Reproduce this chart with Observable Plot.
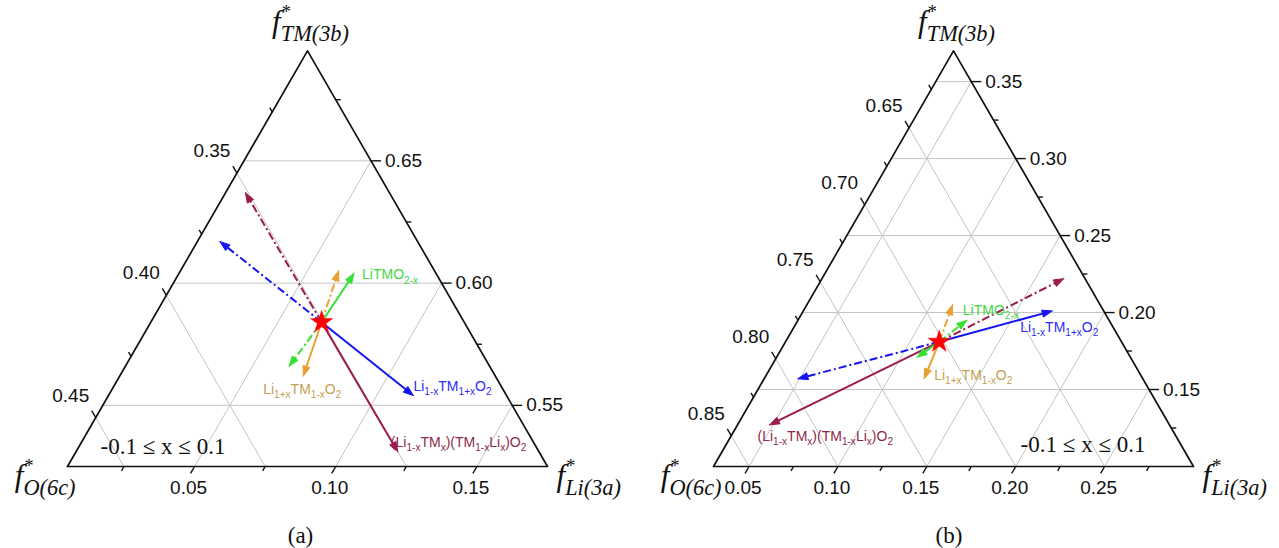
<!DOCTYPE html>
<html><head><meta charset="utf-8">
<script src="https://cdn.jsdelivr.net/npm/d3@7"></script>
<script src="https://cdn.jsdelivr.net/npm/@observablehq/plot@0.6"></script>
<style>
html,body{margin:0;padding:0;background:#fff;}
#wrap{display:flex;width:1279px;height:548px;overflow:hidden;}
#wrap svg{flex:none;}
</style></head><body><div id="wrap"></div>
<script>
// ---------------- data ----------------
const seriesNames = ["Li_{1-x}TM_{1+x}O_{2}", "(Li_{1-x}TM_{x})(TM_{1-x}Li_{x})O_{2}", "LiTMO_{2-x}", "Li_{1+x}TM_{1-x}O_{2}"];
const seriesColors = ["#1414f2", "#9c1a4c", "#33e033", "#eaa030"];
const labelColors = ["#2c2cf0", "#8c2a48", "#44d844", "#c4a052"];
const axisTitles = ["f^{*}_{TM(3b)}", "f^{*}_{O(6c)}", "f^{*}_{Li(3a)}"];
const rangeNote = "-0.1 ≤ x ≤ 0.1";

// panel (a)
const aLiRange = [0.005, 0.175];
const aTmRange = [0.525, 0.695];
const aOMin = 0.30;
const aLiTicks = [0.05, 0.10, 0.15];
const aLiMinor = [0.025, 0.075, 0.125];
const aTmTicks = [0.55, 0.60, 0.65];
const aTmMinor = [0.575, 0.625, 0.675];
const aOTicks = [0.35, 0.40, 0.45];
const aOMinor = [0.325, 0.375, 0.425];
const aCenter = [0.0655, 0.584];           // [Li, TM]
const aSolidLi = [0.113, 0.119, 0.067, 0.070];
const aSolidTm = [0.554, 0.531, 0.604, 0.562];
const aDashLi = [0.013, 0.012, 0.063, 0.061];
const aDashTm = [0.617, 0.637, 0.566, 0.605];

// panel (b)
const bLiRange = [0.03, 0.30];
const bTmRange = [0.10, 0.37];
const bOMin = 0.60;
const bLiTicks = [0.05, 0.10, 0.15, 0.20, 0.25];
const bLiMinor = [0.075, 0.125, 0.175, 0.225, 0.275];
const bTmTicks = [0.15, 0.20, 0.25, 0.30, 0.35];
const bTmMinor = [0.125, 0.175, 0.225, 0.275, 0.325];
const bOTicks = [0.65, 0.70, 0.75, 0.80, 0.85];
const bOMinor = [0.625, 0.675, 0.725, 0.775, 0.825];
const bCenter = [0.1165, 0.181];
const bSolidLi = [0.170, 0.048, 0.109, 0.120];
const bSolidTm = [0.201, 0.127, 0.171, 0.157];
const bDashLi = [0.049, 0.166, 0.125, 0.112];
const bDashTm = [0.157, 0.222, 0.195, 0.205];

// ---------------- drawing ----------------
const S = Math.sqrt(3) / 2;
const SANS = "'Liberation Sans', Arial, sans-serif";
const SERIF = "'Liberation Serif', 'Times New Roman', serif";

function build(p) {
  const [li0, li1] = p.li, [tm0, tm1] = p.tm, R = li1 - li0;
  const P = (li, tm) => ({x: (li - li0) / R + 0.5 * (tm - tm0) / R, y: (tm - tm0) / R * S});
  const k = 1 / (p.xr[1] - p.xr[0]);  // data units per pixel
  const vL = P(li0, tm0), vR = P(li1, tm0), vT = P(li0, tm1);
  const frame = [vL, vR, vT, vL];
  const grid = [];
  p.tmT.forEach(t => grid.push([P(li0, t), P(1 - p.o0 - t, t)]));
  p.liT.forEach(l => grid.push([P(l, tm0), P(l, 1 - p.o0 - l)]));
  p.oT.forEach(o => grid.push([P(li0, 1 - o - li0), P(1 - o - tm0, tm0)]));
  const dTM = {x: 1, y: 0}, dLi = {x: -0.5, y: -S}, dO = {x: -0.5, y: S};
  const mk = (pt, d, len, v, ax) => ({x1: pt.x, y1: pt.y, x2: pt.x + d.x * len * k, y2: pt.y + d.y * len * k, v, ax});
  const ticks = [];
  p.tmT.forEach(t => ticks.push(mk(P(1 - p.o0 - t, t), dTM, 10, t, "tm")));
  p.tmM.forEach(t => ticks.push(mk(P(1 - p.o0 - t, t), dTM, 5, null, "tm")));
  p.liT.forEach(l => ticks.push(mk(P(l, tm0), dLi, 8, l, "li")));
  p.liM.forEach(l => ticks.push(mk(P(l, tm0), dLi, 5, null, "li")));
  p.oT.forEach(o => ticks.push(mk(P(li0, 1 - o - li0), dO, 8, o, "o")));
  p.oM.forEach(o => ticks.push(mk(P(li0, 1 - o - li0), dO, 5, null, "o")));
  const major = ticks.filter(d => d.v != null);
  const fmt = d3.format(".2f");

  const C = P(p.center[0], p.center[1]);
  const marks = [
    Plot.link(grid, {x1: d => d[0].x, y1: d => d[0].y, x2: d => d[1].x, y2: d => d[1].y, stroke: "#c4c4c4", strokeWidth: 1}),
    Plot.line(frame, {x: "x", y: "y", stroke: "#111", strokeWidth: 1.7}),
    Plot.link(ticks, {x1: "x1", y1: "y1", x2: "x2", y2: "y2", stroke: "#111", strokeWidth: 1.4}),
    Plot.text(major.filter(d => d.ax === "tm"), {x: "x1", y: "y1", text: d => fmt(d.v), dx: 14, textAnchor: "start", fontSize: 19, fontFamily: SANS, fill: "#111"}),
    Plot.text(major.filter(d => d.ax === "li"), {x: "x1", y: "y1", text: d => fmt(d.v), dx: -6, dy: 21, fontSize: 19, fontFamily: SANS, fill: "#111"}),
    Plot.text(major.filter(d => d.ax === "o"), {x: "x1", y: "y1", text: d => fmt(d.v), dx: -25, dy: -22, fontSize: 19, fontFamily: SANS, fill: "#111"})
  ];
  const hl = 10 * k, hw = 3.6 * k;
  seriesNames.forEach((name, i) => {
    const ends = [
      {kind: "solid", T: P(p.sLi[i], p.sTm[i])},
      {kind: "dash", T: P(p.dLi[i], p.dTm[i])}
    ];
    ends.forEach(e => {
      const dx = e.T.x - C.x, dy = e.T.y - C.y, L = Math.hypot(dx, dy);
      const d = {x: dx / L, y: dy / L}, n = {x: -d.y, y: d.x};
      const B = {x: e.T.x - d.x * hl, y: e.T.y - d.y * hl};
      const seg = [{x1: C.x, y1: C.y, x2: B.x + d.x * 2 * k, y2: B.y + d.y * 2 * k}];
      marks.push(Plot.link(seg, {x1: "x1", y1: "y1", x2: "x2", y2: "y2", stroke: seriesColors[i], strokeWidth: 2,
        strokeDasharray: e.kind === "dash" ? "8,3,2,3" : null}));
      const head = [e.T, {x: B.x + n.x * hw, y: B.y + n.y * hw}, {x: B.x - n.x * hw, y: B.y - n.y * hw}, e.T];
      marks.push(Plot.line(head, {x: "x", y: "y", fill: seriesColors[i], stroke: seriesColors[i], strokeWidth: 1}));
      if (e.kind === p.lab[i].at) {
        marks.push(Plot.text([e.T], {x: "x", y: "y", text: () => name, fill: labelColors[i], fontSize: 14, fontFamily: SANS,
          textAnchor: p.lab[i].anchor, lineAnchor: "bottom", dx: p.lab[i].dx, dy: p.lab[i].dy}));
      }
    });
  });
  marks.push(Plot.dot([C], {x: "x", y: "y", symbol: "star", r: 7, fill: "#ff0000", stroke: "#ff0000", strokeWidth: 0.5}));
  // titles
  const tStyle = {fontSize: 31, fontFamily: SERIF, fontStyle: "italic", fill: "#111", lineAnchor: "bottom"};
  marks.push(Plot.text([vT], {x: "x", y: "y", text: () => axisTitles[0], textAnchor: "middle", dx: 3, dy: -19, ...tStyle}));
  marks.push(Plot.text([vL], {x: "x", y: "y", text: () => axisTitles[1], textAnchor: "end", dx: 8, dy: 19, ...tStyle}));
  marks.push(Plot.text([vR], {x: "x", y: "y", text: () => axisTitles[2], textAnchor: "start", dx: 9, dy: 19, ...tStyle}));
  // note
  const nv = p.noteAt === "left" ? vL : vR;
  marks.push(Plot.text([nv], {x: "x", y: "y", text: () => rangeNote, textAnchor: p.noteAt === "left" ? "start" : "end",
    dx: p.noteDx, dy: p.noteDy, lineAnchor: "bottom", fontSize: 23, fontFamily: SERIF, fill: "#111"}));
  // caption
  marks.push(Plot.text([p.caption], {frameAnchor: "bottom", text: d => d, dx: p.capDx, dy: -6, lineAnchor: "bottom",
    fontSize: 23, fontFamily: SERIF, fill: "#111"}));

  return Plot.plot({
    width: p.w, height: 548, margin: 0,
    x: {domain: [0, 1], range: p.xr, axis: null},
    y: {domain: [0, S], range: [466, 466 - 480 * S], axis: null},
    style: {fontFamily: SANS, background: "white", overflow: "visible"},
    marks
  });
}

function rich(svg) {
  svg.querySelectorAll("text").forEach(t => {
    const s = t.textContent;
    if (!/[_^]\{/.test(s)) return;
    const host = t.closest("[font-size]");
    const fs = parseFloat(host ? host.getAttribute("font-size") : 12);
    t.textContent = "";
    const re = /([_^])\{([^}]*)\}|([^_^]+)/g;
    let m, cur = 0, prev = null;
    while ((m = re.exec(s))) {
      const ts = document.createElementNS("http://www.w3.org/2000/svg", "tspan");
      let tgt = 0, size = fs;
      if (m[1] === "_") { tgt = fs * 0.3; size = fs * 0.72; }
      else if (m[1] === "^") { tgt = -fs * 0.44; size = fs * 0.6; }
      if (tgt - cur !== 0) ts.setAttribute("dy", tgt - cur);
      cur = tgt;
      if (m[1]) ts.setAttribute("font-size", size);
      ts.textContent = m[1] ? m[2] : m[3];
      t.appendChild(ts);
      if (m[1] === "_" && prev && prev.kind === "^") ts.setAttribute("dx", -prev.el.getComputedTextLength());
      prev = {kind: m[1], el: ts};
    }
  });
}

const wrap = document.getElementById("wrap");
const A = build({
  w: 640, xr: [67, 547], li: aLiRange, tm: aTmRange, o0: aOMin,
  liT: aLiTicks, liM: aLiMinor, tmT: aTmTicks, tmM: aTmMinor, oT: aOTicks, oM: aOMinor,
  center: aCenter, sLi: aSolidLi, sTm: aSolidTm, dLi: aDashLi, dTm: aDashTm,
  lab: [
    {at: "solid", anchor: "start", dx: 0, dy: -5},
    {at: "solid", anchor: "start", dx: -7, dy: -5},
    {at: "solid", anchor: "start", dx: 8, dy: 6},
    {at: "solid", anchor: "middle", dx: -1, dy: 18}
  ],
  noteAt: "left", noteDx: 33, noteDy: -13, caption: "(a)", capDx: -20
});
const B = build({
  w: 639, xr: [73, 553], li: bLiRange, tm: bTmRange, o0: bOMin,
  liT: bLiTicks, liM: bLiMinor, tmT: bTmTicks, tmM: bTmMinor, oT: bOTicks, oM: bOMinor,
  center: bCenter, sLi: bSolidLi, sTm: bSolidTm, dLi: bDashLi, dTm: bDashTm,
  lab: [
    {at: "solid", anchor: "start", dx: -32, dy: 21},
    {at: "solid", anchor: "start", dx: -12, dy: 16},
    {at: "dash", anchor: "start", dx: -4, dy: -5},
    {at: "solid", anchor: "start", dx: 10, dy: 1}
  ],
  noteAt: "right", noteDx: -48, noteDy: -15, caption: "(b)", capDx: -11
});
wrap.appendChild(A);
wrap.appendChild(B);
rich(A); rich(B);
</script></body></html>
